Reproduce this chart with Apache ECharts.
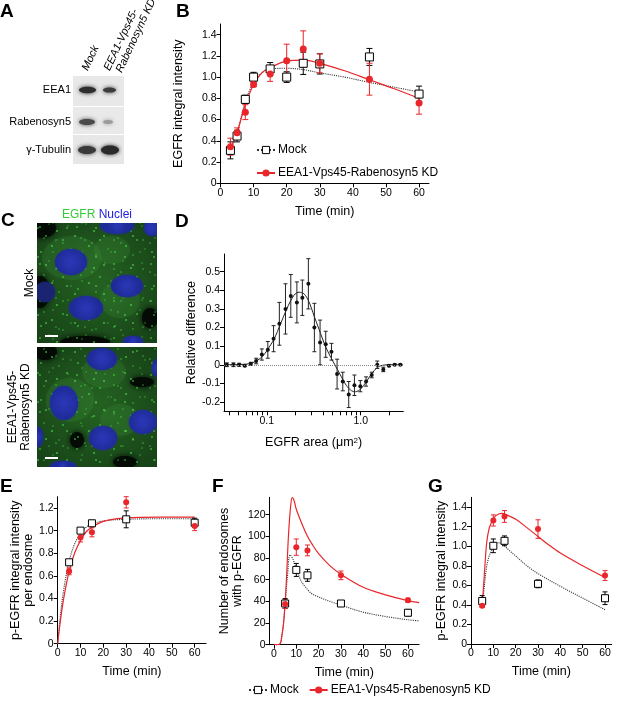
<!DOCTYPE html>
<html lang="en">
<head>
    <meta charset="utf-8">
    <title>EGFR endosome figure</title>
    <script type="text/javascript" src="https://cdn.jsdelivr.net/npm/echarts@6.0.0/dist/echarts.min.js"></script>
    <style>
        html, body { margin: 0; padding: 0; background: #fff; }
        #main { width: 617px; height: 714px; }
    </style>
</head>
<body>
    <div id="main"></div>
    <script>
        // ---- data ----
        const KD_NAME = 'EEA1-Vps45-Rabenosyn5 KD';

        // B: EGFR integral intensity vs time  [t, mean, sem]
        const bMock = [[3, 0.31, 0.08], [5, 0.445, 0.055], [7.5, 0.79, 0.04], [10, 1.00, 0.045], [15, 1.077, 0.06],
                       [20, 1.00, 0.05], [25, 1.13, 0.105], [30, 1.124, 0.095], [45, 1.19, 0.08], [60, 0.84, 0.075]];
        const bKD = [[3, 0.345, 0.08], [5, 0.477, 0.045], [7.5, 0.67, 0.07], [10, 0.93, 0.02], [15, 1.03, 0.07],
                     [20, 1.155, 0.155], [25, 1.265, 0.17], [30, 1.13, 0.09], [45, 0.98, 0.15], [60, 0.756, 0.105]];
        const bMockFit = [[2.5, 0.27], [5, 0.47], [7.5, 0.77], [10, 0.95], [12.5, 1.04], [15, 1.075], [20, 1.083],
                          [25, 1.07], [30, 1.04], [37.5, 1.0], [45, 0.95], [52.5, 0.905], [60, 0.86]];
        const bKDFit = [[2.5, 0.29], [5, 0.48], [7.5, 0.74], [10, 0.93], [12.5, 1.04], [15, 1.09], [20, 1.15],
                        [25, 1.16], [30, 1.13], [37.5, 1.06], [45, 0.975], [52.5, 0.89], [60, 0.80]];

        // D: relative difference vs EGFR area (log)  [area, diff, err]
        const dPoints = [[0.0375, 0, 0.01], [0.0441, 0, 0.01], [0.0508, 0, 0.008], [0.0583, -0.005, 0.005],
                         [0.0676, 0.005, 0.008], [0.077, 0.02, 0.015], [0.0885, 0.055, 0.03], [0.1025, 0.08, 0.045],
                         [0.118, 0.14, 0.07], [0.136, 0.22, 0.115], [0.158, 0.30, 0.135], [0.18, 0.37, 0.115],
                         [0.209, 0.335, 0.11], [0.239, 0.36, 0.095], [0.277, 0.435, 0.135], [0.321, 0.20, 0.13],
                         [0.369, 0.12, 0.12], [0.424, 0.11, 0.07], [0.488, 0.07, 0.045], [0.56, -0.05, 0.08],
                         [0.644, -0.09, 0.05], [0.745, -0.16, 0.07], [0.857, -0.11, 0.055], [0.99, -0.115, 0.03],
                         [1.14, -0.09, 0.025], [1.31, -0.055, 0.015], [1.50, 0.0, 0.02], [1.74, -0.025, 0.012],
                         [2.0, -0.005, 0.005], [2.30, 0, 0.004], [2.64, 0, 0.004]];
        const dFit = [[0.035, 0], [0.06, 0.003], [0.07, 0.01], [0.08, 0.025], [0.09, 0.045], [0.1, 0.075],
                      [0.12, 0.14], [0.14, 0.22], [0.16, 0.29], [0.18, 0.345], [0.2, 0.38], [0.22, 0.39],
                      [0.25, 0.38], [0.28, 0.34], [0.32, 0.26], [0.36, 0.19], [0.42, 0.10], [0.48, 0.04],
                      [0.53, 0.0], [0.6, -0.05], [0.7, -0.11], [0.8, -0.14], [0.88, -0.145], [1.0, -0.13],
                      [1.15, -0.09], [1.3, -0.05], [1.5, -0.015], [1.7, -0.003], [2.0, 0], [2.8, 0]];

        // E: p-EGFR integral intensity per endosome
        const eMock = [[5, 0.72, 0.02], [10, 1.00, 0.02], [15, 1.065, 0.015], [30, 1.10, 0.075], [60, 1.07, 0.04]];
        const eKD = [[5, 0.64, 0.03], [10, 0.94, 0.04], [15, 0.985, 0.04], [30, 1.25, 0.05], [60, 1.04, 0.04]];
        const eMockFit = [[0, 0], [1, 0.216], [2.5, 0.46], [5, 0.73], [7.5, 0.886], [10, 0.975], [12.5, 1.03],
                          [15, 1.058], [20, 1.086], [30, 1.10], [45, 1.105], [60, 1.105]];
        const eKDFit = [[0, 0], [1, 0.174], [2.5, 0.386], [5, 0.64], [7.5, 0.806], [10, 0.914], [12.5, 0.99],
                        [15, 1.03], [20, 1.082], [30, 1.113], [45, 1.12], [60, 1.12]];

        // F: number of endosomes with p-EGFR
        const fMock = [[5, 38, 4.5], [10, 69, 6], [15, 64, 5.5], [30, 38, 2], [60, 29.5, 3]];
        const fKD = [[5, 37.5, 4], [10, 90, 7.5], [15, 87, 5], [30, 64, 4], [60, 41, 2]];
        const fMockFit = [[0, 0], [2, 0], [3, 2], [3.5, 7.5], [4.2, 18], [5, 38], [6, 62], [7.2, 83], [8.5, 79],
                          [10, 70], [12.4, 58], [15, 51], [17, 47], [20, 44], [25, 40], [30, 36.5], [40, 30],
                          [50, 26], [60, 23], [65, 22]];
        const fKDFit = [[0, 0], [2, 0], [3, 2], [3.5, 8], [4.2, 18], [4.9, 35], [5.7, 65], [6.4, 97], [7.3, 124],
                        [8.2, 136], [9, 133], [10, 125], [12.4, 112], [15, 100], [17, 93], [20, 84], [25, 73],
                        [30, 65], [40, 53], [50, 46], [60, 40.6], [65, 38.8]];

        // G: p-EGFR integral intensity
        const gMock = [[5, 0.44, 0.055], [10, 1.004, 0.07], [15, 1.055, 0.05], [30, 0.615, 0.04], [60, 0.468, 0.065]];
        const gKD = [[5, 0.39, 0.015], [10, 1.263, 0.057], [15, 1.304, 0.06], [30, 1.175, 0.095], [60, 0.70, 0.05]];
        const gMockFit = [[5, 0.38], [6, 0.60], [7, 0.79], [8, 0.89], [9.3, 0.96], [11, 1.02], [12, 1.035],
                          [14, 1.02], [17.5, 0.95], [20, 0.90], [25, 0.80], [30, 0.72], [40, 0.59], [50, 0.47], [60, 0.35]];
        const gKDFit = [[5, 0.38], [6, 0.72], [7, 1.03], [8, 1.17], [9.3, 1.25], [11, 1.31], [13.7, 1.335],
                        [16, 1.32], [20.4, 1.27], [25, 1.19], [30, 1.10], [35, 1.01], [40, 0.93], [50, 0.80], [60, 0.68]];

        // tick labels
        const timeTicks = [0, 10, 20, 30, 40, 50, 60];
        const intensityTicks = [0, 0.2, 0.4, 0.6, 0.8, 1.0, 1.2, 1.4];
        const eTicksY = [0, 0.2, 0.4, 0.6, 0.8, 1.0, 1.2];
        const fTicksY = [0, 20, 40, 60, 80, 100, 120];
        const dTicksY = [-0.2, -0.1, 0, 0.1, 0.2, 0.3, 0.4, 0.5];
        const dTicksX = [0.04, 0.05, 0.06, 0.07, 0.08, 0.09, 0.1, 0.2, 0.3, 0.4, 0.5, 0.6, 0.7, 0.8, 0.9, 1, 2];
        const dLabelsX = [0.1, 1];

        // ---- chart ----
        const FONT = '"Liberation Sans", Arial, sans-serif';
        const RED = '#e8262b';
        const chart = echarts.init(document.getElementById('main'));

        function fmtDec(v) { return Math.abs(v) < 1e-9 ? '0' : v.toFixed(1); }

        function axis(gi, opts) {
            return Object.assign({
                gridIndex: gi,
                type: 'value',
                axisLine: { show: true, onZero: false, lineStyle: { color: '#000', width: 1 } },
                axisTick: { show: true, length: 4, lineStyle: { color: '#000', width: 1 }, customValues: opts.ticks },
                axisLabel: { color: '#000', fontSize: 10.5, fontFamily: FONT, margin: 4,
                             customValues: opts.labels || opts.ticks, formatter: opts.fmt },
                splitLine: { show: false },
                nameLocation: 'middle',
                nameTextStyle: { color: '#000', fontSize: 12.5, fontFamily: FONT,
                                 rich: { sup: { fontSize: 8, verticalAlign: 'top', fontFamily: FONT, color: '#000' } } }
            }, opts.extra);
        }

        function xTime(gi, min, max, gap) {
            return axis(gi, { ticks: timeTicks, fmt: v => String(v),
                extra: { min: min, max: max, name: 'Time (min)', nameGap: gap } });
        }

        function errBars(gi, data, color, cap) {
            return {
                type: 'custom', xAxisIndex: gi, yAxisIndex: gi, data: data, silent: true, z: 3,
                encode: { x: 0, y: 1 },
                renderItem: function (params, api) {
                    const x = api.value(0), y = api.value(1), e = api.value(2);
                    const a = api.coord([x, y + e]), b = api.coord([x, y - e]);
                    const st = { stroke: color, lineWidth: 1 };
                    return { type: 'group', children: [
                        { type: 'line', shape: { x1: a[0], y1: a[1], x2: b[0], y2: b[1] }, style: st },
                        { type: 'line', shape: { x1: a[0] - cap, y1: a[1], x2: a[0] + cap, y2: a[1] }, style: st },
                        { type: 'line', shape: { x1: b[0] - cap, y1: b[1], x2: b[0] + cap, y2: b[1] }, style: st }
                    ] };
                }
            };
        }

        function mockFit(gi, data, name) {
            return { name: name || 'Mock fit', type: 'line', xAxisIndex: gi, yAxisIndex: gi, data: data,
                     smooth: 0.35, showSymbol: false, symbol: 'rect', symbolSize: 7, silent: true, z: 2,
                     itemStyle: { color: '#fff', borderColor: '#000', borderWidth: 1 },
                     lineStyle: { color: '#333', width: 1.1, type: 'dotted' } };
        }
        function kdFit(gi, data, name) {
            return { name: name || 'KD fit', type: 'line', xAxisIndex: gi, yAxisIndex: gi, data: data,
                     smooth: 0.35, showSymbol: false, symbol: 'circle', symbolSize: 7, silent: true, z: 2,
                     itemStyle: { color: RED }, lineStyle: { color: RED, width: 1.2 } };
        }
        function mockPts(gi, data, size) {
            return { name: 'Mock pts', type: 'scatter', xAxisIndex: gi, yAxisIndex: gi, data: data, z: 4,
                     symbol: 'rect', symbolSize: size, silent: true,
                     itemStyle: { color: '#fff', borderColor: '#000', borderWidth: 1, opacity: 1 } };
        }
        function kdPts(gi, data, size) {
            return { name: 'KD pts', type: 'scatter', xAxisIndex: gi, yAxisIndex: gi, data: data, z: 5,
                     symbol: 'circle', symbolSize: size, silent: true, itemStyle: { color: RED, opacity: 1 } };
        }

        function legendAt(left, top, gap) {
            return { data: [{ name: 'Mock', itemStyle: { borderWidth: 1 } }, KD_NAME], orient: 'vertical',
                     left: left, top: top, itemWidth: 18, itemHeight: 9,
                     itemGap: gap, selectedMode: false, padding: 0,
                     textStyle: { color: '#000', fontSize: 12, fontFamily: FONT, padding: [0, 0, 0, -2] } };
        }

        // speckle tiles for the micrographs (two sizes so the repeat is less visible)
        const speckA = [[3, 5, 0.9], [12, 2, 0.7], [20, 9, 1.1], [31, 4, 0.7], [7, 16, 0.8], [26, 18, 0.9],
                        [15, 24, 1.1], [34, 27, 0.7], [4, 30, 0.9], [22, 33, 0.8]];
        const speckB = [[5, 11, 0.8], [17, 4, 1.0], [24, 20, 0.7], [9, 25, 0.9], [27, 8, 0.8]];
        function makeTile(size, dots, color) {
            const c = document.createElement('canvas');
            c.width = size; c.height = size;
            const ctx = c.getContext('2d');
            ctx.fillStyle = color;
            dots.forEach(d => { ctx.beginPath(); ctx.arc(d[0], d[1], d[2], 0, Math.PI * 2); ctx.fill(); });
            return c;
        }
        const tileA = makeTile(37, speckA, 'rgba(70,230,70,0.9)');
        const tileB = makeTile(29, speckB, 'rgba(110,255,110,0.9)');

        function micro(y0, nuclei, gaps, bright, barY) {
            const box = { x: 37, y: y0, width: 120, height: 120 };
            const children = [
                { type: 'rect', shape: box,
                  style: { fill: { type: 'radial', x: 0.5, y: 0.5, r: 0.75,
                           colorStops: [{ offset: 0, color: '#22601f' }, { offset: 1, color: '#163f17' }] } } }
            ];
            bright.forEach(g => children.push({ type: 'ellipse', shape: { cx: g[0], cy: g[1], rx: g[2], ry: g[3] },
                style: { fill: 'rgba(60,140,55,0.25)', shadowBlur: 14, shadowColor: 'rgba(60,140,55,0.3)' } }));
            gaps.forEach(g => children.push({ type: 'ellipse', shape: { cx: g[0], cy: g[1], rx: g[2], ry: g[3] },
                style: { fill: '#040b05', shadowBlur: 6, shadowColor: '#040b05' } }));
            children.push({ type: 'rect', shape: box, style: { fill: { image: tileA, repeat: 'repeat' }, opacity: 0.75 } });
            children.push({ type: 'rect', shape: box, style: { fill: { image: tileB, repeat: 'repeat' }, opacity: 0.6 } });
            nuclei.forEach(n => children.push({ type: 'ellipse', shape: { cx: n[0], cy: n[1], rx: n[2], ry: n[3] },
                style: { fill: { type: 'radial', x: 0.5, y: 0.5, r: 0.6,
                                 colorStops: [{ offset: 0, color: n[4] || '#2a38b8' }, { offset: 1, color: n[4] || '#1e2a96' }] },
                         shadowBlur: 2, shadowColor: '#1e2a96' } }));
            children.push({ type: 'rect', shape: { x: 45, y: barY, width: 13, height: 2 }, style: { fill: '#fff' } });
            return { type: 'group', clipPath: { type: 'rect', shape: box }, children: children };
        }

        const topNuclei = [[71, 262, 16, 13], [127, 286, 16, 11], [86, 308, 17, 12], [117, 226, 17, 8],
                           [152, 228, 8, 8], [133, 341, 10, 5], [45, 292, 10, 10, '#1a2470']];
        const topGaps = [[42, 228, 14, 10], [40, 292, 10, 16], [85, 342, 25, 6], [150, 318, 8, 10]];
        const topBright = [[72, 258, 30, 22], [112, 250, 18, 14], [120, 300, 20, 18]];
        const botNuclei = [[102, 359, 15, 11], [64, 403, 14, 17], [143, 422, 14, 12], [103, 438, 14, 12],
                           [63, 466, 13, 5], [157, 368, 5, 9], [38, 437, 5, 10]];
        const botGaps = [[45, 352, 12, 8], [77, 440, 7, 8], [142, 382, 12, 5], [125, 462, 12, 6]];
        const botBright = [[104, 372, 22, 16], [70, 400, 24, 22], [120, 420, 20, 16]];

        function band(cx, cy, rx, ry, c) {
            return { type: 'ellipse', shape: { cx: cx, cy: cy, rx: rx, ry: ry },
                     style: { fill: c, shadowBlur: 4, shadowColor: c } };
        }
        function letter(t, x, y) {
            return { type: 'text', x: x, y: y, style: { text: t, fontSize: 19, fontWeight: 'bold', fontFamily: FONT, fill: '#000' } };
        }
        function rotText(t, x, y, size, align, rot, italic) {
            return { type: 'text', x: x, y: y, rotation: rot,
                     style: { text: t, fontSize: size, fontFamily: FONT, fill: '#000', align: align, verticalAlign: 'middle',
                              fontStyle: italic ? 'italic' : 'normal' } };
        }
        const R65 = 65 * Math.PI / 180;

        const graphics = [
            letter('A', 0, 2), letter('B', 176, 2), letter('C', 1, 211), letter('D', 175, 212),
            letter('E', 0, 477), letter('F', 212, 477), letter('G', 428, 477),
            // western blot
            { type: 'rect', shape: { x: 73, y: 76, width: 51, height: 30 }, style: { fill: '#e8e8e8' } },
            { type: 'rect', shape: { x: 73, y: 107, width: 51, height: 27 }, style: { fill: '#e9e9e9' } },
            { type: 'rect', shape: { x: 73, y: 135, width: 51, height: 29 }, style: { fill: '#e7e7e7' } },
            band(87.5, 90, 8.5, 3.2, '#2e2e2e'), band(109.5, 90, 6.5, 2.6, '#3c3c3c'),
            band(87, 122, 8, 3, '#4a4a4a'), band(108, 122, 5, 2, '#9a9a9a'),
            band(87, 150, 9, 4, '#3a3a3a'), band(110, 150, 9, 4.5, '#2a2a2a'),
            { type: 'text', x: 71, y: 90, style: { text: 'EEA1', fontSize: 11, fontFamily: FONT, fill: '#000', align: 'right', verticalAlign: 'middle' } },
            { type: 'text', x: 71, y: 122, style: { text: 'Rabenosyn5', fontSize: 11, fontFamily: FONT, fill: '#000', align: 'right', verticalAlign: 'middle' } },
            { type: 'text', x: 71, y: 150, style: { text: 'γ-Tubulin', fontSize: 11, fontFamily: FONT, fill: '#000', align: 'right', verticalAlign: 'middle' } },
            rotText('Mock', 85, 70, 11, 'left', R65, true),
            rotText('EEA1-Vps45-', 107, 70, 11, 'left', R65, true),
            rotText('Rabenosyn5 KD', 119, 72, 11, 'left', R65, true),
            // micrographs
            { type: 'text', x: 97, y: 215, style: { text: '{g|EGFR} {b|Nuclei}', align: 'center', verticalAlign: 'middle',
              rich: { g: { fill: '#33cc33', fontSize: 12, fontFamily: FONT }, b: { fill: '#2020e0', fontSize: 12, fontFamily: FONT } } } },
            micro(223, topNuclei, topGaps, topBright, 335),
            micro(347, botNuclei, botGaps, botBright, 457),
            rotText('Mock', 30, 283, 12, 'center', Math.PI / 2, false),
            rotText('EEA1-Vps45-', 13, 407, 12, 'center', Math.PI / 2, false),
            rotText('Rabenosyn5 KD', 26, 407, 12, 'center', Math.PI / 2, false)
        ];

        const option = {
            animation: false,
            textStyle: { fontFamily: FONT },
            graphic: graphics,
            legend: [legendAt(256, 144, 11), legendAt(248, 684, 10)],
            grid: [
                { left: 220.5, top: 24, width: 208.5, height: 159.3 },   // B
                { left: 224, top: 254, width: 179.3, height: 157.3 },    // D
                { left: 57.7, top: 496.7, width: 148.4, height: 147 },   // E
                { left: 269.5, top: 497.3, width: 149.6, height: 147.4 }, // F
                { left: 471, top: 497.3, width: 140.7, height: 146.7 }   // G
            ],
            xAxis: [
                xTime(0, 0, 63, 22),
                axis(1, { ticks: dTicksX, labels: dLabelsX, fmt: v => (v > 0.5 ? '1.0' : '0.1'),
                          extra: { type: 'log', logBase: 10, min: 0.035, max: 2.84, name: 'EGFR area (μm{sup|2})', nameGap: 25 } }),
                xTime(2, 0, 65, 21),
                xTime(3, -2, 65, 21),
                xTime(4, 0, 63, 21)
            ],
            yAxis: [
                axis(0, { ticks: intensityTicks, fmt: fmtDec,
                          extra: { min: 0, max: 1.5, name: 'EGFR integral intensity', nameGap: 35 } }),
                axis(1, { ticks: dTicksY, fmt: fmtDec,
                          extra: { min: -0.25, max: 0.595, name: 'Relative difference', nameGap: 21 } }),
                axis(2, { ticks: eTicksY, fmt: fmtDec,
                          extra: { min: 0, max: 1.3, name: 'p-EGFR integral intensity\nper endosme', nameGap: 23 } }),
                axis(3, { ticks: fTicksY, fmt: v => String(v),
                          extra: { min: 0, max: 136, name: 'Number of endosomes\nwith p-EGFR', nameGap: 20 } }),
                axis(4, { ticks: intensityTicks, fmt: fmtDec,
                          extra: { min: 0, max: 1.5, name: 'p-EGFR integral intensity', nameGap: 22 } })
            ],
            series: [
                // B
                mockFit(0, bMockFit, 'Mock'), kdFit(0, bKDFit, KD_NAME),
                errBars(0, bMock, '#000', 3), errBars(0, bKD, RED, 3),
                mockPts(0, bMock.map(d => [d[0], d[1]]), 8), kdPts(0, bKD.map(d => [d[0], d[1]]), 7),
                // D
                { name: 'D fit', type: 'line', xAxisIndex: 1, yAxisIndex: 1, data: dFit, smooth: 0.3,
                  showSymbol: false, silent: true, lineStyle: { color: '#222', width: 1 },
                  markLine: { silent: true, symbol: 'none', label: { show: false }, data: [{ yAxis: 0 }],
                              lineStyle: { color: '#888', type: 'dotted', width: 1 } } },
                errBars(1, dPoints, '#222', 2),
                { name: 'D pts', type: 'scatter', xAxisIndex: 1, yAxisIndex: 1, silent: true, z: 4,
                  data: dPoints.map(d => [d[0], d[1]]), symbol: 'circle', symbolSize: 4, itemStyle: { color: '#111', opacity: 1 } },
                // E
                mockFit(2, eMockFit), kdFit(2, eKDFit),
                errBars(2, eMock, '#000', 2.5), errBars(2, eKD, RED, 2.5),
                mockPts(2, eMock.map(d => [d[0], d[1]]), 7), kdPts(2, eKD.map(d => [d[0], d[1]]), 6),
                // F
                mockFit(3, fMockFit, 'Mock'), kdFit(3, fKDFit, KD_NAME),
                errBars(3, fMock, '#000', 2.5), errBars(3, fKD, RED, 2.5),
                mockPts(3, fMock.map(d => [d[0], d[1]]), 7), kdPts(3, fKD.map(d => [d[0], d[1]]), 6),
                // G
                mockFit(4, gMockFit), kdFit(4, gKDFit),
                errBars(4, gMock, '#000', 2.5), errBars(4, gKD, RED, 2.5),
                mockPts(4, gMock.map(d => [d[0], d[1]]), 7), kdPts(4, gKD.map(d => [d[0], d[1]]), 6)
            ]
        };

        chart.setOption(option);
    </script>
</body>
</html>
